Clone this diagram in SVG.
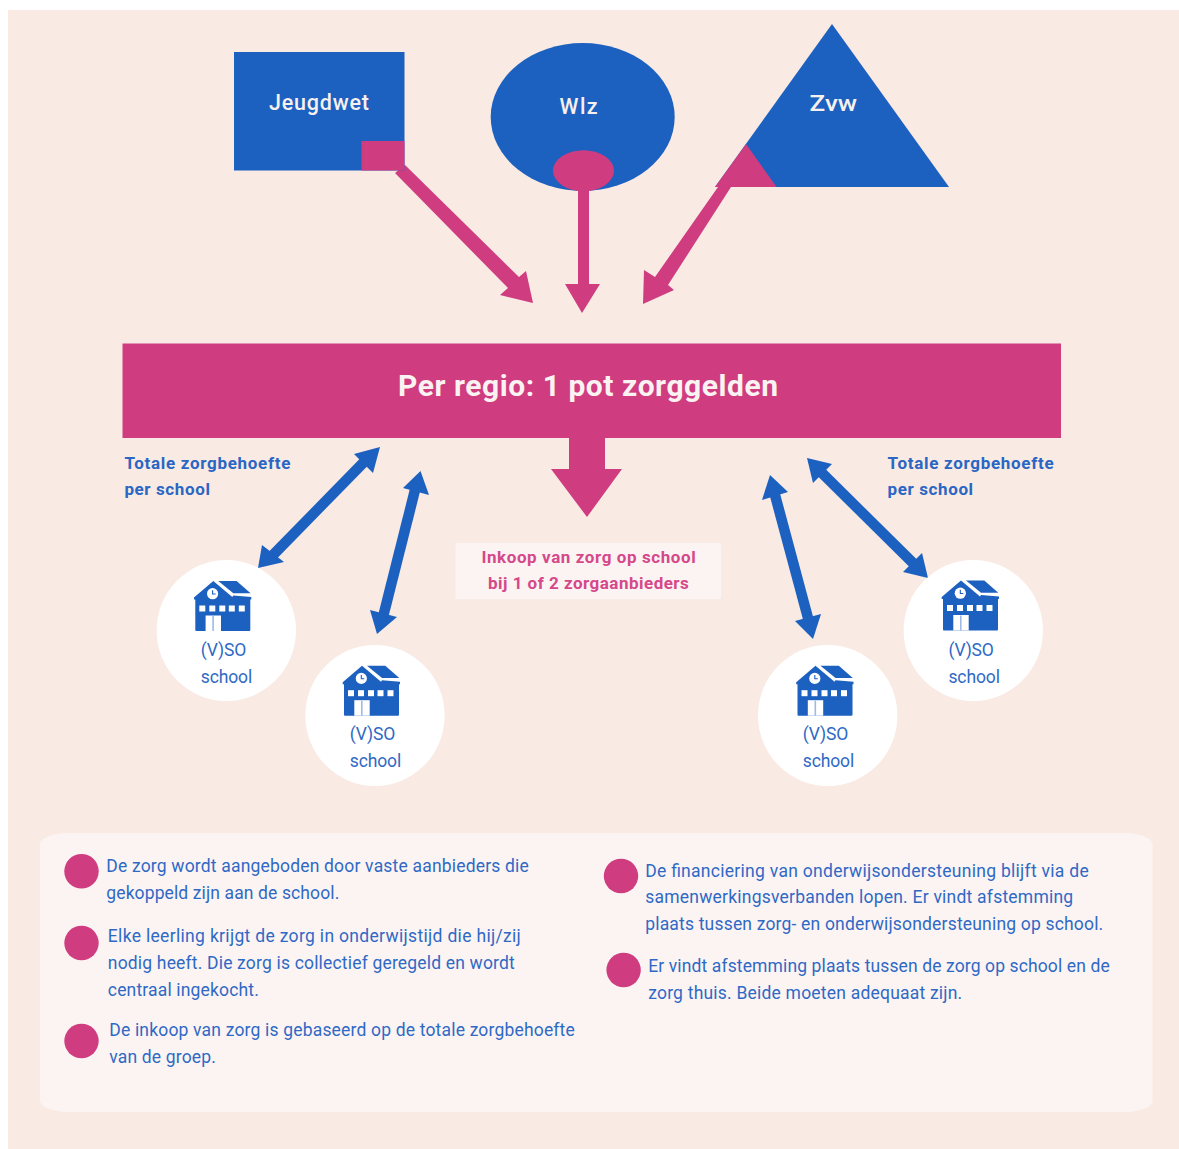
<svg xmlns="http://www.w3.org/2000/svg" width="1179" height="1149" viewBox="0 0 1179 1149">
<style>
.pink{fill:#CF3C80}
.blue{fill:#1C60C0}
.soft{fill:#FCF4F2}
text{font-family:Roboto,"Liberation Sans",sans-serif}
.body{font-size:17.5px;fill:#2F69C5}
.sch{font-size:17.5px;fill:#2F69C5}
.lbl{font-size:17px;font-weight:700;fill:#2A66C3}
.ink{font-size:17px;font-weight:700;fill:#D5488A}
.ttl{font-size:21.5px;font-weight:500;fill:#F6F0EE}
.big{font-size:30px;font-weight:700;fill:#FBF3F1}
.shaft{stroke:#1C60C0;stroke-width:10.5;fill:none}
</style>
<defs>
<symbol id="school-icon" viewBox="0 0 58 50" width="58" height="50" overflow="visible">
<path class="blue" d="M0.7 16.5L20 0L39 16L40 14.5L58 16L58 18.5L57 18.5L57 49Q57 50 56 50L3 50Q2 50 2 49L2 18.5L0.7 18.5Z"/>
<path class="blue" d="M25 0L43.3 0L57.3 12.3L40 12.3Z"/>
<g fill="#FFFFFF">
<rect x="6" y="24.5" width="6" height="6"/><rect x="16" y="24.5" width="6" height="6"/><rect x="26" y="24.5" width="6" height="6"/><rect x="35.5" y="24.5" width="6" height="6"/><rect x="45.5" y="24.5" width="6" height="6"/>
<rect x="12.3" y="34.5" width="15.4" height="15.5"/>
<circle cx="19.3" cy="12.7" r="5.6"/>
</g>
<rect x="19" y="35" width="1.6" height="15" fill="#9DBBE6"/>
<path d="M19.3 9.3V13H22.3" fill="none" stroke="#1C60C0" stroke-width="1.1"/>
</symbol>
</defs>
<rect width="1179" height="1149" fill="#FFFFFF"/>
<rect x="8" y="10" width="1171" height="1139" fill="#F9EAE3"/>

<g id="connectors">
<polygon class="pink" points="405,165 519,277 526,271 533,303 500,295 508,288 395,173"/>
<polygon class="pink" points="578,186 589,186 589,284 600,284 582,313 565,284 578,284"/>
<polygon class="pink" points="718,187 731,187 668,285 674,290 643,304 644,270 655,277"/>
<polygon class="pink" points="569,436 605,436 605,469 622,469 587,517 551,469 569,469"/>
<g id="arrow-a"><line class="shaft" x1="365" y1="461" x2="273" y2="555"/><polygon class="blue" points="380,447 354,454 373,473"/><polygon class="blue" points="258,568 262,545 284,562"/></g>
<g id="arrow-b"><line class="shaft" x1="415" y1="490" x2="383.5" y2="615"/><polygon class="blue" points="420.5,471 403,488 429,495"/><polygon class="blue" points="377,634 370,610 397,617"/></g>
<g id="arrow-c"><line class="shaft" x1="775" y1="495" x2="808" y2="618"/><polygon class="blue" points="770,475 762,500 788,492"/><polygon class="blue" points="813,639 795,621 821,614"/></g>
<g id="arrow-d"><line class="shaft" x1="822" y1="473" x2="913" y2="563"/><polygon class="blue" points="807,458 832,464 813,483"/><polygon class="blue" points="928,578 903,572 922,553"/></g>
</g>

<g id="jeugdwet">
<rect class="blue" x="234" y="52" width="170.5" height="118.5"/>
<rect class="pink" x="361.5" y="141" width="43" height="29.5"/>
<text class="ttl" x="269" y="109.5" textLength="100">Jeugdwet</text>
</g>
<g id="wlz">
<ellipse class="blue" cx="582.7" cy="117" rx="92" ry="74"/>
<ellipse class="pink" cx="583.5" cy="170.7" rx="30.5" ry="20.5"/>
<text class="ttl" x="559.6" y="114" textLength="38">Wlz</text>
</g>
<g id="zvw">
<polygon class="blue" points="832,24 949,187 715,187"/>
<polygon class="pink" points="715,187 746,144 776.6,187"/>
<text class="ttl" x="809.6" y="110.5" textLength="47.5" lengthAdjust="spacingAndGlyphs">Zvw</text>
</g>
<g id="regio">
<rect class="pink" x="122.5" y="343.5" width="938.5" height="94.5"/>
<text class="big" x="398" y="395.5" textLength="380">Per regio: 1 pot zorggelden</text>
</g>
<g id="label-left">
<text class="lbl" x="124.4" y="468.5" textLength="166">Totale zorgbehoefte</text>
<text class="lbl" x="124.4" y="495.3" textLength="85.5">per school</text>
</g>
<g id="label-right">
<text class="lbl" x="887.6" y="468.5" textLength="166">Totale zorgbehoefte</text>
<text class="lbl" x="887.6" y="495.3" textLength="85.5">per school</text>
</g>
<g id="inkoop">
<rect class="soft" x="455.5" y="542.7" width="265.5" height="56.6" rx="2"/>
<text class="ink" x="481.4" y="562.5" textLength="214.3">Inkoop van zorg op school</text>
<text class="ink" x="488" y="589.2" textLength="200.8">bij 1 of 2 zorgaanbieders</text>
</g>
<g id="school-1">
<ellipse cx="226.3" cy="630.5" rx="69.7" ry="70.5" fill="#FFFFFF"/>
<use href="#school-icon" x="193.3" y="581"/>
<text class="sch" x="200.7" y="656" textLength="45.5">(V)SO</text>
<text class="sch" x="200.7" y="683.3" textLength="51.5">school</text>
</g>
<g id="school-2">
<ellipse cx="375" cy="715.5" rx="69.7" ry="70.5" fill="#FFFFFF"/>
<use href="#school-icon" x="342" y="665.7"/>
<text class="sch" x="349.7" y="739.5" textLength="45.5">(V)SO</text>
<text class="sch" x="349.7" y="766.7" textLength="51.5">school</text>
</g>
<g id="school-3">
<ellipse cx="827.7" cy="715.5" rx="69.7" ry="70.5" fill="#FFFFFF"/>
<use href="#school-icon" x="795.5" y="665.7"/>
<text class="sch" x="802.7" y="739.5" textLength="45.5">(V)SO</text>
<text class="sch" x="802.7" y="766.7" textLength="51.5">school</text>
</g>
<g id="school-4">
<ellipse cx="973.3" cy="630.5" rx="69.7" ry="70.5" fill="#FFFFFF"/>
<use href="#school-icon" x="941" y="580.5"/>
<text class="sch" x="948.4" y="656" textLength="45.5">(V)SO</text>
<text class="sch" x="948.4" y="683.3" textLength="51.5">school</text>
</g>
<g id="panel">
<rect class="soft" x="40" y="833" width="1112.5" height="279" rx="30" ry="11"/>
</g>
<g id="point-1">
<ellipse class="pink" cx="81.5" cy="871.3" rx="17.2" ry="17.3"/>
<text class="body" x="106.3" y="872" textLength="422.5">De zorg wordt aangeboden door vaste aanbieders die</text>
<text class="body" x="106.3" y="898.8" textLength="233">gekoppeld zijn aan de school.</text>
</g>
<g id="point-2">
<ellipse class="pink" cx="81.5" cy="943" rx="17.2" ry="17.3"/>
<text class="body" x="107.8" y="942" textLength="413">Elke leerling krijgt de zorg in onderwijstijd die hij/zij</text>
<text class="body" x="107.8" y="968.8" textLength="407">nodig heeft. Die zorg is collectief geregeld en wordt</text>
<text class="body" x="107.8" y="995.5" textLength="151">centraal ingekocht.</text>
</g>
<g id="point-3">
<ellipse class="pink" cx="81.5" cy="1041" rx="17.2" ry="17.3"/>
<text class="body" x="109.3" y="1036" textLength="465.5">De inkoop van zorg is gebaseerd op de totale zorgbehoefte</text>
<text class="body" x="109.3" y="1062.8" textLength="106.5">van de groep.</text>
</g>
<g id="point-4">
<ellipse class="pink" cx="621" cy="876" rx="17.2" ry="17.3"/>
<text class="body" x="645.2" y="876.5" textLength="443.5">De financiering van onderwijsondersteuning blijft via de</text>
<text class="body" x="645.2" y="903.3" textLength="428">samenwerkingsverbanden lopen. Er vindt afstemming</text>
<text class="body" x="645.2" y="930.3" textLength="458">plaats tussen zorg- en onderwijsondersteuning op school.</text>
</g>
<g id="point-5">
<ellipse class="pink" cx="623.6" cy="970" rx="17.2" ry="17.3"/>
<text class="body" x="648.2" y="972" textLength="461.5">Er vindt afstemming plaats tussen de zorg op school en de</text>
<text class="body" x="648.2" y="998.8" textLength="314">zorg thuis. Beide moeten adequaat zijn.</text>
</g>
</svg>
